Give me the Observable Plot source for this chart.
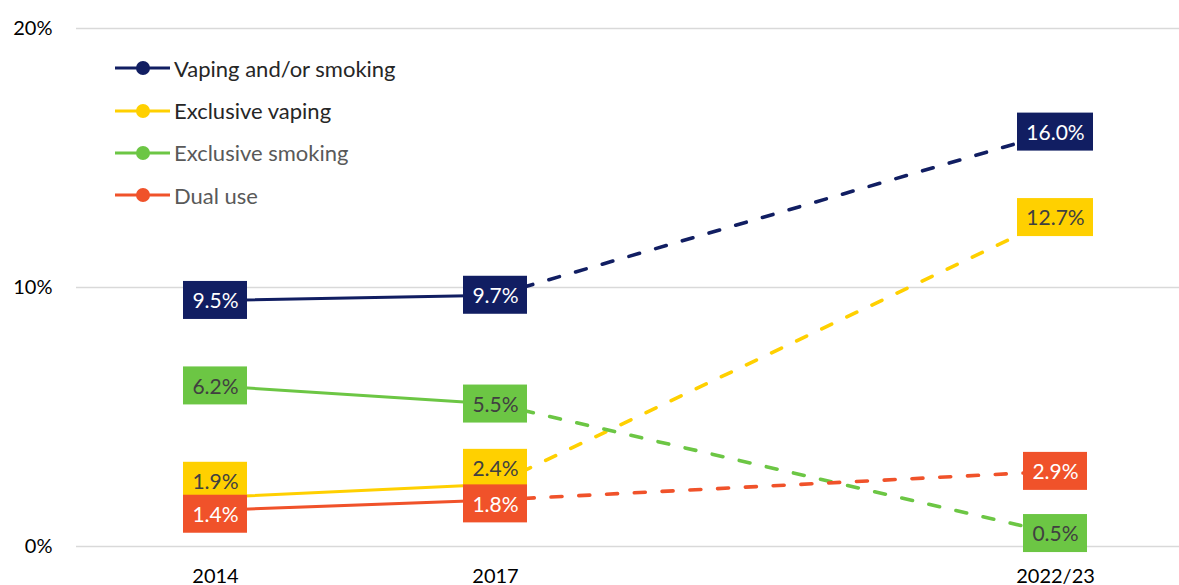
<!DOCTYPE html>
<html><head><meta charset="utf-8">
<script src="https://cdn.jsdelivr.net/npm/d3@7"></script>
<script src="https://cdn.jsdelivr.net/npm/@observablehq/plot@0.6"></script>
<style>
body{margin:0;background:#fff;font-family:Lato,"Open Sans",sans-serif;}
#wrap{position:relative;width:1179px;height:585px;}
#legend{position:absolute;left:114px;top:47px;}
.item{display:flex;align-items:center;height:42.4px;font-size:22px;}
.item svg{margin-right:3px;}
</style></head><body><div id="wrap"><div id="legend"></div></div>
<script>
const years = ["2014", "2017", "2022/23"];
const seriesNames = ["Vaping and/or smoking", "Exclusive vaping", "Exclusive smoking", "Dual use"];
const seriesColors = ["#111E62", "#FFD000", "#6CC644", "#F0522A"];
const vapingOrSmoking = [9.5, 9.7, 16.0];
const exclusiveVaping = [1.9, 2.4, 12.7];
const exclusiveSmoking = [6.2, 5.5, 0.5];
const dualUse = [1.4, 1.8, 2.9];
const yTicks = [0, 10, 20];

const seriesValues = [vapingOrSmoking, exclusiveVaping, exclusiveSmoking, dualUse];
const labelTextColors = ["#ffffff", "#404040", "#404040", "#ffffff"];
const legendTextColors = ["#262626", "#262626", "#595959", "#595959"];

const rows = seriesNames.flatMap((s, i) => years.map((y, j) => ({
  series: s, year: y, value: seriesValues[i][j], label: seriesValues[i][j].toFixed(1) + "%"
})));

// label vertical nudges (pixels), as in the original
function nudge(d) {
  if (d.year === "2022/23") return 0;
  if (d.series === "Exclusive vaping") return -16;
  if (d.series === "Dual use") return 4;
  return 0;
}

const lineMarks = [];
seriesNames.forEach((s, i) => {
  const data = rows.filter(d => d.series === s);
  lineMarks.push(Plot.line(data.filter(d => d.year !== "2022/23"), {x: "year", y: "value", stroke: seriesColors[i], strokeWidth: 3}));
  lineMarks.push(Plot.line(data.filter(d => d.year !== "2014"), {x: "year", y: "value", stroke: seriesColors[i], strokeWidth: 3.6, strokeDasharray: "11,16.8", strokeLinecap: "round"}));
});

const labelMarks = [];
seriesNames.forEach((s, i) => {
  const data = rows.filter(d => d.series === s);
  const groups = d3.groups(data, d => nudge(d) + "|" + d.label.length);
  for (const [key, g] of groups) {
    const dy = nudge(g[0]);
    const hw = g[0].label.length >= 5 ? 38 : 32;
    labelMarks.push(Plot.rect(g, {
      x1: "year", x2: "year", y1: "value", y2: "value",
      fill: seriesColors[i],
      insetLeft: -hw, insetRight: -hw, insetTop: -19 + dy, insetBottom: -19 - dy
    }));
    labelMarks.push(Plot.text(g, {
      x: "year", y: "value", text: "label", dy: dy + 1,
      fill: labelTextColors[i], fontSize: 21, fontFamily: "Lato"
    }));
  }
});

const chart = Plot.plot({
  width: 1179,
  height: 585,
  marginLeft: 76,
  marginRight: 0,
  marginTop: 28,
  marginBottom: 39,
  style: {fontFamily: "Lato", background: "#fff", overflow: "visible"},
  x: {type: "point", domain: ["2014", "2017", "", "2022/23"], range: [215, 1055], padding: 0},
  y: {domain: [0, 20]},
  marks: [
    Plot.ruleY(yTicks, {stroke: "#d9d9d9", strokeWidth: 1.5}),
    Plot.axisY({ticks: yTicks, tickSize: 0, tickPadding: 24, tickFormat: d => d + "%", fontSize: 20, fill: "#000", label: null}),
    Plot.axisX({ticks: years, tickSize: 0, tickPadding: 22, fontSize: 20, fill: "#000", label: null}),
    ...lineMarks,
    ...labelMarks
  ]
});
document.getElementById("wrap").prepend(chart);

const legend = document.getElementById("legend");
seriesNames.forEach((s, i) => {
  const item = document.createElement("div");
  item.className = "item";
  item.innerHTML = `<svg width="57" height="16"><line x1="1" x2="56" y1="8" y2="8" stroke="${seriesColors[i]}" stroke-width="3"/><circle cx="29" cy="8" r="7" fill="${seriesColors[i]}"/></svg><span style="color:${legendTextColors[i]}">${s}</span>`;
  legend.appendChild(item);
});
</script>
</body></html>
